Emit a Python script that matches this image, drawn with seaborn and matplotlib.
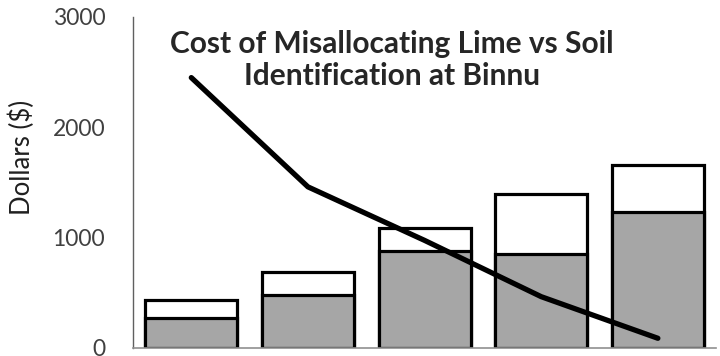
import matplotlib.pyplot as plt
import seaborn as sns
import pandas as pd

# values
categories = ['1', '2', '3', '4', '5']
total_cost = [435, 690, 1090, 1395, 1660]
lime_cost = [272, 480, 878, 850, 1235]
misallocation = [2450, 1460, 975, 465, 88]
yticks = [0, 1000, 2000, 3000]


def main():
    sns.set_style('white')
    plt.rcParams['font.family'] = ['Lato', 'DejaVu Sans']

    df = pd.DataFrame({
        'cat': categories,
        'total': total_cost,
        'lime': lime_cost,
        'line': misallocation,
    })

    fig = plt.figure(figsize=(7.2, 3.56), dpi=100)
    ax = fig.add_axes([0.1847, 0.0225, 0.81, 0.930])

    sns.barplot(data=df, x='cat', y='total', color='white', saturation=1,
                width=0.79, edgecolor='black', linewidth=2.3, ax=ax)
    sns.barplot(data=df, x='cat', y='lime', color='#a6a6a6', saturation=1,
                width=0.79, edgecolor='black', linewidth=2.3, ax=ax)
    sns.pointplot(data=df, x='cat', y='line', color='black', marker='',
                  linewidth=3.8, errorbar=None, ax=ax)

    ax.set_xlim(-0.5, 4.5)
    ax.set_ylim(0, 3000)
    ax.set_yticks(yticks)
    ax.tick_params(axis='y', length=0, pad=20, labelsize=16.5,
                   labelcolor='#404040')
    ax.tick_params(axis='x', length=0, labelbottom=False)
    ax.set_xlabel('')
    ax.set_ylabel('Dollars ($)', fontsize=18.5, color='#202020')
    ax.yaxis.set_label_coords(-0.168, 0.577)

    for side in ['top', 'right']:
        ax.spines[side].set_visible(False)
    ax.spines['left'].set_color('#606060')
    ax.spines['left'].set_linewidth(1.0)
    ax.spines['bottom'].set_color('#909090')
    ax.spines['bottom'].set_linewidth(1.2)

    fig.text(392 / 720, 1 - 60 / 356,
             'Cost of Misallocating Lime vs Soil\nIdentification at Binnu',
             ha='center', va='center', fontsize=21.5, fontweight='bold',
             linespacing=1.2)

    fig.savefig('out.png', dpi=100)


if __name__ == '__main__':
    main()
